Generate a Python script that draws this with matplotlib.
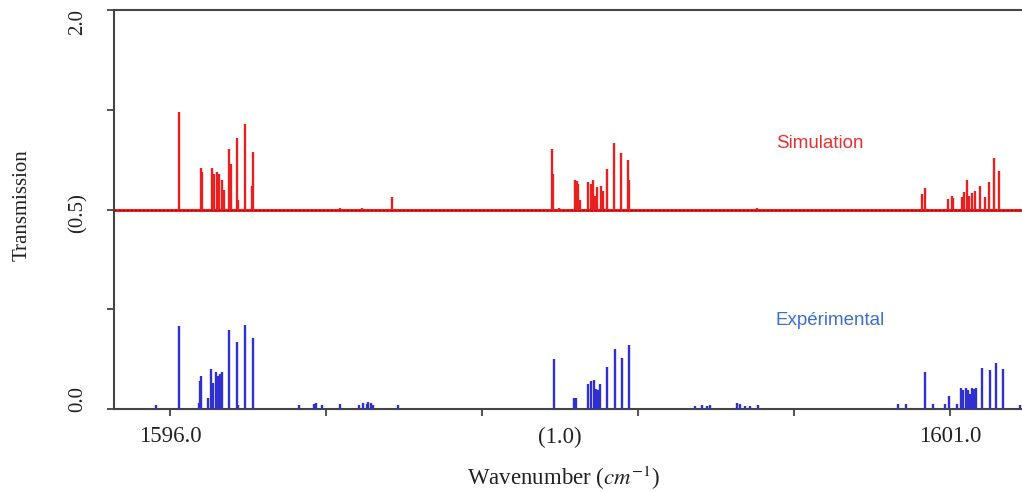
import matplotlib
matplotlib.use("Agg")
import matplotlib.pyplot as plt
import matplotlib.transforms as mtransforms

plt.rcParams["mathtext.fontset"] = "stix"

# ---------------- data ----------------
sim_baseline = 1.0
sim_pos = [1596.060, 1596.199, 1596.208, 1596.267, 1596.282, 1596.299, 1596.314,
           1596.331, 1596.346, 1596.380, 1596.389, 1596.428, 1596.436, 1596.483,
           1596.526, 1596.530, 1597.090, 1597.229, 1597.421,
           1598.451, 1598.458, 1598.494, 1598.596, 1598.607, 1598.615, 1598.628,
           1598.681, 1598.697, 1598.713, 1598.724, 1598.739, 1598.761, 1598.776,
           1598.803, 1598.848, 1598.891, 1598.934, 1598.944, 1599.763,
           1600.824, 1600.840, 1600.989, 1601.011, 1601.019, 1601.075, 1601.092,
           1601.107, 1601.122, 1601.139, 1601.160, 1601.192, 1601.224, 1601.252,
           1601.284, 1601.314]
sim_val = [1.49, 1.21, 1.19, 1.21, 1.18, 1.19, 1.18,
           1.15, 1.10, 1.305, 1.23, 1.36, 1.05, 1.427,
           1.12, 1.29, 1.008, 1.008, 1.065,
           1.305, 1.18, 1.01, 1.146, 1.145, 1.13, 1.05,
           1.137, 1.13, 1.15, 1.07, 1.113, 1.12, 1.095,
           1.204, 1.333, 1.283, 1.25, 1.146, 1.008,
           1.08, 1.109, 1.054, 1.07, 1.06, 1.062, 1.088,
           1.146, 1.07, 1.082, 1.092, 1.12, 1.062, 1.137,
           1.26, 1.193]

exp_pos = [1595.910, 1596.060, 1596.186, 1596.192, 1596.199, 1596.242, 1596.263,
           1596.274, 1596.293, 1596.310, 1596.321, 1596.335, 1596.380, 1596.428,
           1596.438, 1596.483, 1596.534,
           1596.829, 1596.923, 1596.933, 1596.974, 1597.090, 1597.212, 1597.237,
           1597.261, 1597.271, 1597.287, 1597.301, 1597.462,
           1598.463, 1598.592, 1598.603, 1598.681, 1598.697, 1598.718, 1598.731,
           1598.744, 1598.756, 1598.803, 1598.853, 1598.895, 1598.944,
           1599.365, 1599.408, 1599.440, 1599.462, 1599.633, 1599.654, 1599.686,
           1599.718, 1599.771,
           1600.669, 1600.718, 1600.843, 1600.889, 1600.968, 1600.996, 1601.043,
           1601.071, 1601.085, 1601.101, 1601.117, 1601.128, 1601.139, 1601.154,
           1601.167, 1601.203, 1601.256, 1601.295, 1601.338, 1601.449]
exp_val = [0.02, 0.417, 0.03, 0.14, 0.166, 0.057, 0.2,
           0.13, 0.186, 0.166, 0.177, 0.186, 0.395, 0.338,
           0.02, 0.42, 0.358,
           0.02, 0.025, 0.03, 0.02, 0.025, 0.02, 0.03,
           0.025, 0.035, 0.03, 0.02, 0.02,
           0.25, 0.057, 0.057, 0.127, 0.14, 0.144, 0.10,
           0.095, 0.124, 0.21, 0.30, 0.255, 0.32,
           0.015, 0.02, 0.015, 0.02, 0.03, 0.025, 0.015,
           0.015, 0.02,
           0.024, 0.027, 0.187, 0.027, 0.027, 0.065, 0.027,
           0.107, 0.095, 0.107, 0.095, 0.077, 0.107, 0.10,
           0.107, 0.207, 0.194, 0.233, 0.20, 0.02]

x_ticks = [1596, 1597, 1598, 1599, 1600, 1601]
x_label_pos = [1596.0, 1598.5, 1601.0]
x_label_txt = ["1596.0", "(1.0)", "1601.0"]
y_ticks = [0.0, 0.5, 1.0, 1.5, 2.0]
y_label_pos = [0.05, 0.98, 1.94]
y_label_txt = ["0.0", "(0.5)", "2.0"]

# ---------------- figure ----------------
W, H = 1022, 492
fig = plt.figure(figsize=(W / 100, H / 100), dpi=100)
ax = fig.add_axes([114 / W, (H - 409) / H, 1 - 114 / W, (409 - 10) / H])

serif = ["Liberation Serif", "DejaVu Serif"]
sans = ["Liberation Sans", "DejaVu Sans"]

ax.set_xlim(1595.641, 1601.462)
ax.set_ylim(0, 2.0)

# simulation baseline
ax.axhline(sim_baseline, color="#f02020", lw=2.2, zorder=2)
ax.axhline(sim_baseline, color="#a01010", lw=0.9, dashes=(2.0, 1.2), zorder=3)
ax.vlines(sim_pos, sim_baseline, sim_val, color="#e82020", lw=1.7, zorder=4)

# experimental sticks
ax.vlines(exp_pos, 0, exp_val, color="#3030d0", lw=1.7, zorder=4)

# spines
ax.spines["right"].set_visible(False)
for s in ["left", "top", "bottom"]:
    ax.spines[s].set_color("#444444")
    ax.spines[s].set_linewidth(1.5)

ax.set_xticks(x_ticks)
ax.set_xticklabels([])
ax.set_yticks(y_ticks)
ax.set_yticklabels([])
ax.tick_params(axis="both", direction="out", length=5, width=1.3, color="#444444")
ax.tick_params(axis="x", top=False)

# x tick labels
tx = mtransforms.blended_transform_factory(ax.transData, fig.transFigure)
for p, t in zip(x_label_pos, x_label_txt):
    ax.text(p, (H - 437) / H, t, transform=tx, ha="center", va="center",
            fontsize=16.5, family=serif, color="#222222")

# y tick labels (rotated)
ty = mtransforms.blended_transform_factory(fig.transFigure, ax.transData)
for p, t in zip(y_label_pos, y_label_txt):
    ax.text(78 / W, p, t, transform=ty, ha="center", va="center", rotation=90,
            fontsize=15, family=serif, color="#222222")

fig.text(22 / W, (H - 205) / H, "Transmission", rotation=90, ha="center",
         va="center", fontsize=15, family=serif, color="#222222")
fig.text(564 / W, (H - 478) / H, r"Wavenumber ($cm^{-1}$)", ha="center",
         va="center", fontsize=16.5, family=serif, color="#222222")

ax.text(1600.167, 1.332, "Simulation", color="#e83030", fontsize=13.5,
        family=sans, ha="center", va="center")
ax.text(1600.231, 0.442, "Expérimental", color="#3a6fd0", fontsize=13.5,
        family=sans, ha="center", va="center")

fig.savefig("out.png", dpi=100)
